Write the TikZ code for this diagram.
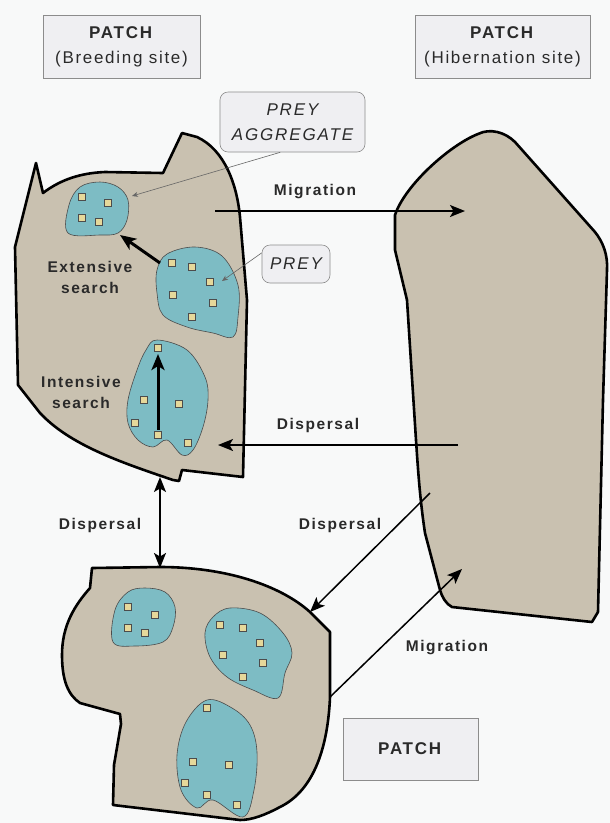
\documentclass[tikz,border=0pt]{standalone}
\usepackage{fontspec}
\setmainfont{Liberation Sans}
\newfontfamily\lsans[LetterSpace=10]{Liberation Sans}
\newfontfamily\lsansw[LetterSpace=11]{Liberation Sans}
\usetikzlibrary{arrows.meta}
\definecolor{patchc}{HTML}{C9C1B0}
\definecolor{aggc}{HTML}{7DBCC4}
\definecolor{preyc}{HTML}{E6D89A}
\definecolor{bgc}{HTML}{F8F9F9}
\definecolor{boxc}{HTML}{EFEFF2}
\definecolor{txtc}{HTML}{2A2A2A}
\begin{document}
\begin{tikzpicture}[x=1pt,y=-1pt,
  patch/.style={draw=black,fill=patchc,line width=2.6pt,line join=round},
  agg/.style={draw=black!70,fill=aggc,line width=0.6pt},
  prey/.style={draw=black!70,fill=preyc,minimum size=7.5pt,inner sep=0pt,line width=0.6pt},
  lbl/.style={font=\lsans\bfseries\fontsize{15.5}{21}\selectfont,text=txtc,align=center,inner sep=0pt},
  pbox/.style={draw=black!45,fill=boxc,line width=0.6pt,align=center,inner sep=0pt,
    font=\lsans\fontsize{17}{25}\selectfont,text=txtc},
  rbox/.style={draw=black!45,fill=boxc,line width=0.6pt,align=center,inner sep=0pt,rounded corners=8pt,
    font=\lsansw\itshape\fontsize{17}{25}\selectfont,text=txtc},
  arr/.style={line width=1.5pt,-{Stealth[length=15pt,width=12pt,inset=3.5pt]}},
  darr/.style={line width=1.5pt,{Stealth[length=15pt,width=12pt,inset=3.5pt]}-{Stealth[length=15pt,width=12pt,inset=3.5pt]}},
  tarr/.style={line width=3pt,-{Stealth[length=16pt,width=13pt,inset=4pt]}},
  lead/.style={draw=black!60,line width=0.6pt,-{Stealth[length=6pt,width=5pt]}}
]
\useasboundingbox[fill=bgc] (0,0) rectangle (610,823);

% breeding patch
\draw[patch] (36,163) -- (43,193) .. controls (60,180) and (80,173) .. (105,172) -- (163,173) -- (182,133) -- (197,137)
  .. controls (225,150) and (237,185) .. (240,217) -- (247,300) -- (243,477) -- (182,470) -- (179,481) -- (173,480)
  .. controls (120,462) and (70,445) .. (40,413) -- (18,385) -- (15,247) -- cycle;

% hibernation patch
\draw[patch] (395,215) .. controls (405,185) and (450,145) .. (478,134) .. controls (490,128) and (505,132) .. (515,142)
  -- (595,232) .. controls (603,242) and (608,255) .. (607,270) -- (603,400) -- (598,612) -- (592,622) -- (452,607)
  .. controls (446,604) and (442,597) .. (440,590) -- (425,533) .. controls (420,500) and (418,470) .. (416,440)
  -- (407,300) -- (395,250) -- cycle;

% lower patch
\draw[patch] (92,568) -- (160,567) .. controls (225,567) and (280,585) .. (310,612) -- (330,632) -- (330,697)
  .. controls (328,745) and (315,790) .. (280,807) .. controls (265,815) and (252,820) .. (240,820) -- (113,805)
  -- (114,765) -- (121,724) -- (120,714) -- (80,703) .. controls (68,695) and (62,680) .. (62,655)
  .. controls (62,625) and (75,605) .. (90,588) -- cycle;

% aggregates, breeding patch
\draw[agg] plot[smooth cycle,tension=0.6] coordinates {(68,233) (69,205) (80,187) (100,182) (118,187) (128,200) (127,220) (118,233) (100,235)};
\draw[agg] plot[smooth cycle,tension=0.6] coordinates {(157,270) (167,254) (195,247) (222,256) (238,285) (238,317) (233,337) (213,333) (187,327) (163,315) (157,293)};
\draw[agg] plot[smooth cycle,tension=0.6] coordinates {(157,340) (187,350) (205,377) (208,400) (203,427) (193,450) (182,455) (167,440) (153,447) (138,440) (128,423) (128,400) (137,370) (146,350)};

% aggregates, lower patch
\draw[agg] plot[smooth cycle,tension=0.6] coordinates {(113,642) (115,610) (128,592) (145,588) (165,592) (175,607) (173,627) (163,642) (135,646)};
\draw[agg] plot[smooth cycle,tension=0.6] coordinates {(205,633) (213,617) (230,608) (260,613) (283,633) (292,653) (285,673) (278,698) (253,690) (227,677) (210,657)};
\draw[agg] plot[smooth cycle,tension=0.6] coordinates {(207,700) (232,708) (250,725) (257,752) (254,790) (243,817) (213,800) (197,808) (181,790) (177,755) (186,722)};

% prey items
\foreach \n/\p in {a1/{(82,197)},a2/{(108,203)},a3/{(82,218)},a4/{(99,222)},
  b1/{(172,263)},b2/{(192,267)},b3/{(210,282)},b4/{(173,295)},b5/{(213,303)},b6/{(192,317)},
  c1/{(158,348)},c2/{(144,400)},c3/{(179,404)},c4/{(135,423)},c5/{(158,435)},c6/{(188,443)},
  d1/{(128,607)},d2/{(155,615)},d3/{(128,628)},d4/{(145,633)},
  e1/{(220,625)},e2/{(243,628)},e3/{(260,643)},e4/{(223,655)},e5/{(263,663)},e6/{(243,677)},
  f1/{(207,708)},f2/{(193,762)},f3/{(229,765)},f4/{(185,783)},f5/{(207,795)},f6/{(237,805)}}
  {\node[prey] (\n) at \p {};}

% arrow end points
\coordinate (m1s) at (215,211);
\coordinate (m1e) at (465,211);
\coordinate (d1s) at (458,445);
\coordinate (d1e) at (218,445);
\coordinate (d2s) at (160,477);
\coordinate (d2e) at (160,568);
\coordinate (d3s) at (430,493);
\coordinate (d3e) at (310,612);
\coordinate (m2s) at (330,697);
\coordinate (m2e) at (462,569);
\coordinate (exs) at (160,263);
\coordinate (exe) at (120,235);
\coordinate (ins) at (158,430);
\coordinate (ine) at (158,354);
\coordinate (lag) at (132,196);
\coordinate (lpr) at (222,281);

\draw[arr] (m1s) -- (m1e);
\draw[arr] (d1s) -- (d1e);
\draw[darr] (d2s) -- (d2e);
\draw[arr] (d3s) -- (d3e);
\draw[arr] (m2s) -- (m2e);
\draw[tarr] (exs) -- (exe);
\draw[tarr] (ins) -- (ine);

% labels
\node[lbl] (lmig1) at (315,192) {Migration};
\node[lbl] (ldis1) at (318,425) {Dispersal};
\node[lbl] (ldis2) at (100,525) {Dispersal};
\node[lbl] (ldis3) at (340,525) {Dispersal};
\node[lbl] (lmig2) at (447,648) {Migration};
\node[lbl] (lext) at (90,277) {Extensive\\search};
\node[lbl] (lint) at (81,392) {Intensive\\search};

% boxes
\node[pbox,minimum width=157,minimum height=63] (bbox) at (121.5,46.5) {\textbf{PATCH}\\(Breeding site)};
\node[pbox,minimum width=175,minimum height=63] (hbox) at (502.5,46.5) {\textbf{PATCH}\\(Hibernation site)};
\node[pbox,minimum width=135,minimum height=62] (pbox3) at (410.5,749) {\textbf{PATCH}};
\node[rbox,minimum width=145,minimum height=60] (aggbox) at (292.5,122) {PREY\\AGGREGATE};
\node[rbox,minimum width=68,minimum height=38] (preybox) at (296,264) {PREY};

\draw[lead] (aggbox.248) -- (lag);
\draw[lead] (preybox.162) -- (lpr);
\end{tikzpicture}
\end{document}
